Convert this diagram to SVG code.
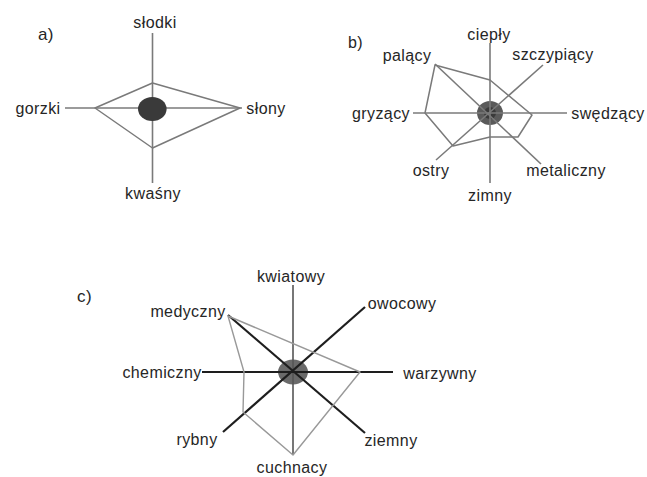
<svg xmlns="http://www.w3.org/2000/svg" width="647" height="477" viewBox="0 0 647 477">
<style>
text{font-family:"Liberation Sans",Arial,sans-serif;font-size:16px;fill:#262626;letter-spacing:0.4px}
.ax{stroke:#7a7a7a;stroke-width:1.6;fill:none}
.poly{stroke:#7a7a7a;stroke-width:1.5;fill:none;stroke-linejoin:round}
.axc{stroke:#1e1e1e;stroke-width:2.2;fill:none}
.axv{stroke:#555;stroke-width:1.6;fill:none}
.polyc{stroke:#999;stroke-width:1.4;fill:none;stroke-linejoin:round}
</style>
<rect width="647" height="477" fill="#ffffff"/>
<g id="center-b-c">
  <ellipse cx="490" cy="113" rx="13" ry="12" fill="#5a5a5a"/>
  <ellipse cx="490" cy="113" rx="6" ry="6" fill="#3a3a3a"/>
  <ellipse cx="293" cy="372" rx="15" ry="12.5" fill="#6a6a6a"/>
</g>
<g id="connectors">
  <!-- a -->
  <line class="ax" x1="152.5" y1="33" x2="152.5" y2="183"/>
  <line class="ax" x1="65" y1="108" x2="242" y2="108"/>
  <polygon class="poly" points="95,108 152.5,83 240,108 152.5,148"/>
  <!-- b -->
  <line class="ax" x1="490" y1="43" x2="490" y2="183"/>
  <line class="ax" x1="413" y1="113" x2="567" y2="113"/>
  <line class="ax" x1="543" y1="65" x2="436" y2="160"/>
  <line class="ax" x1="435" y1="64" x2="541" y2="164"/>
  <polygon class="poly" points="435,65 490,80 532,115 518,137 490,137 453,146 425,113"/>
  <!-- c -->
  <line class="axv" x1="293" y1="285" x2="293" y2="455"/>
  <line class="axc" x1="202" y1="372" x2="393" y2="372"/>
  <line class="axc" x1="365" y1="307" x2="223" y2="432"/>
  <line class="axc" x1="228" y1="315" x2="365" y2="433"/>
  <polygon class="polyc" points="228,316 360,372 293,455 243,412 244,372"/>
</g>
<g id="center-a">
  <ellipse cx="152.3" cy="109" rx="14.3" ry="12" fill="#3a3a3a"/>
</g>
<g id="labels-a">
  <text x="38" y="40" style="font-size:17px">a)</text>
  <text id="slodki" x="155" y="28" text-anchor="middle">słodki</text>
  <text id="gorzki" x="38" y="114" text-anchor="middle">gorzki</text>
  <text id="slony" x="266" y="114" text-anchor="middle">słony</text>
  <text id="kwasny" x="153" y="199" text-anchor="middle">kwaśny</text>
</g>
<g id="labels-b">
  <text x="348" y="48">b)</text>
  <text id="cieply" x="489" y="40" text-anchor="middle">ciepły</text>
  <text id="szczypiacy" x="553" y="60" text-anchor="middle">szczypiący</text>
  <text id="palacy" x="407" y="61" text-anchor="middle">palący</text>
  <text id="gryzacy" x="381" y="119" text-anchor="middle">gryzący</text>
  <text id="swedzacy" x="608" y="119" text-anchor="middle">swędzący</text>
  <text id="ostry" x="431" y="176" text-anchor="middle">ostry</text>
  <text id="metaliczny" x="566" y="176" text-anchor="middle">metaliczny</text>
  <text id="zimny" x="490" y="201" text-anchor="middle">zimny</text>
</g>
<g id="labels-c">
  <text x="77" y="302" style="font-size:17px">c)</text>
  <text id="kwiatowy" x="291" y="282" text-anchor="middle">kwiatowy</text>
  <text id="owocowy" x="402" y="309" text-anchor="middle">owocowy</text>
  <text id="medyczny" x="188" y="317" text-anchor="middle">medyczny</text>
  <text id="chemiczny" x="162" y="378" text-anchor="middle">chemiczny</text>
  <text id="warzywny" x="440" y="379" text-anchor="middle">warzywny</text>
  <text id="rybny" x="197" y="445" text-anchor="middle">rybny</text>
  <text id="ziemny" x="391" y="446" text-anchor="middle">ziemny</text>
  <text id="cuchnacy" x="292" y="473" text-anchor="middle">cuchnacy</text>
</g>
</svg>
